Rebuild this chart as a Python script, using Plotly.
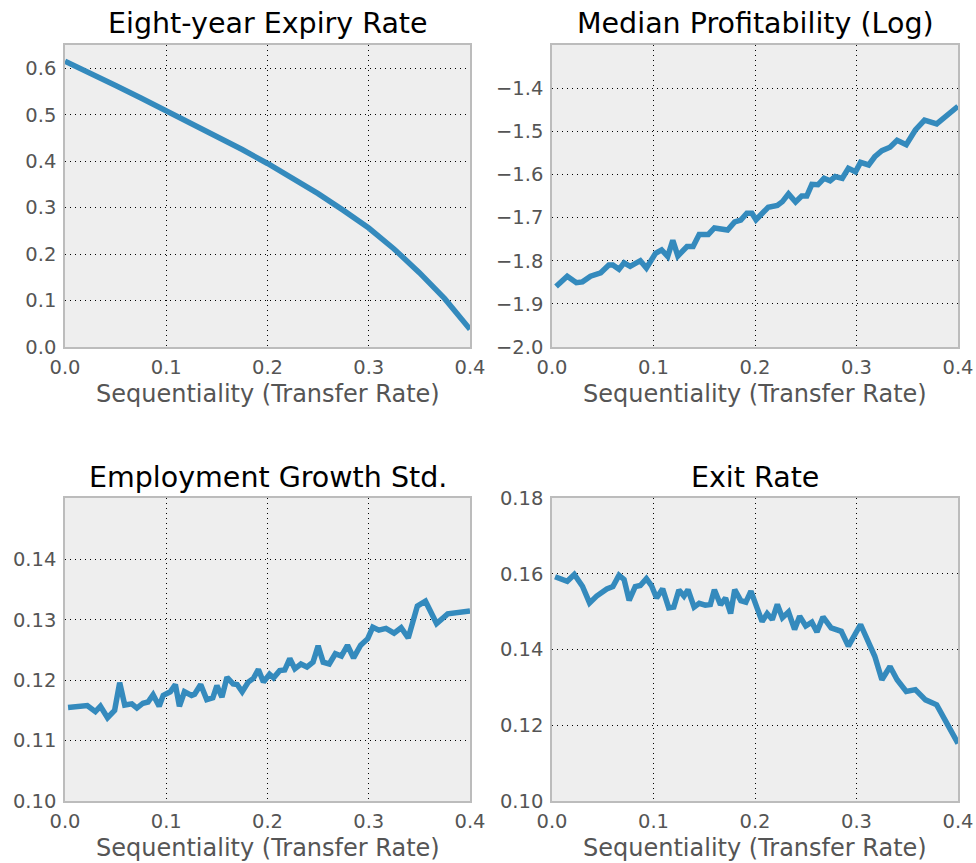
import plotly.graph_objects as go

# Eight-year expiry rate (smooth curve)
expiry_x = [0.0, 0.025, 0.05, 0.075, 0.1, 0.125, 0.15, 0.175, 0.2, 0.225,
            0.25, 0.275, 0.3, 0.325, 0.35, 0.375, 0.4]
expiry_y = [0.615, 0.590, 0.563, 0.536, 0.509, 0.482, 0.454, 0.425, 0.395, 0.363,
            0.330, 0.294, 0.256, 0.211, 0.160, 0.104, 0.038]

# Median profitability (log)
profit_x = [0.004, 0.015, 0.024, 0.030, 0.038, 0.048, 0.056, 0.060, 0.066, 0.071,
            0.077, 0.087, 0.093, 0.102, 0.108, 0.114, 0.119, 0.124, 0.133, 0.139,
            0.145, 0.154, 0.160, 0.167, 0.173, 0.180, 0.186, 0.192, 0.197, 0.201,
            0.213, 0.222, 0.227, 0.233, 0.240, 0.246, 0.251, 0.256, 0.262, 0.268,
            0.274, 0.279, 0.286, 0.292, 0.299, 0.304, 0.312, 0.318, 0.325, 0.333,
            0.340, 0.349, 0.358, 0.367, 0.379, 0.400]
profit_y = [-1.860, -1.836, -1.851, -1.849, -1.836, -1.828, -1.810, -1.810, -1.820, -1.805,
            -1.813, -1.800, -1.817, -1.783, -1.775, -1.790, -1.753, -1.789, -1.767, -1.767,
            -1.739, -1.739, -1.724, -1.727, -1.729, -1.710, -1.706, -1.690, -1.690, -1.705,
            -1.676, -1.672, -1.663, -1.645, -1.664, -1.650, -1.650, -1.623, -1.624, -1.609,
            -1.615, -1.605, -1.609, -1.586, -1.594, -1.572, -1.578, -1.559, -1.545, -1.537,
            -1.521, -1.531, -1.497, -1.474, -1.483, -1.442]

# Employment growth std.
emp_x = [0.003, 0.013, 0.022, 0.030, 0.035, 0.042, 0.049, 0.054, 0.059, 0.066,
         0.071, 0.077, 0.082, 0.087, 0.093, 0.097, 0.104, 0.109, 0.113, 0.118,
         0.125, 0.128, 0.134, 0.140, 0.146, 0.150, 0.155, 0.160, 0.166, 0.170,
         0.175, 0.181, 0.186, 0.191, 0.196, 0.202, 0.206, 0.212, 0.217, 0.222,
         0.227, 0.233, 0.239, 0.245, 0.250, 0.255, 0.261, 0.267, 0.273, 0.279,
         0.285, 0.292, 0.299, 0.304, 0.310, 0.317, 0.325, 0.332, 0.339, 0.348,
         0.356, 0.367, 0.378, 0.400]
emp_y = [0.1155, 0.1157, 0.1158, 0.1148, 0.1157, 0.1138, 0.1150, 0.1196, 0.1159, 0.1161,
         0.1154, 0.1162, 0.1164, 0.1176, 0.1157, 0.1175, 0.1181, 0.1193, 0.1157, 0.1181,
         0.1175, 0.1177, 0.1193, 0.1168, 0.1171, 0.1191, 0.1172, 0.1205, 0.1194, 0.1193,
         0.1181, 0.1197, 0.1203, 0.1218, 0.1197, 0.1210, 0.1204, 0.1216, 0.1217, 0.1236,
         0.1219, 0.1227, 0.1222, 0.1230, 0.1257, 0.1230, 0.1227, 0.1244, 0.1240, 0.1258,
         0.1237, 0.1258, 0.1269, 0.1288, 0.1283, 0.1286, 0.1278, 0.1287, 0.1270, 0.1323,
         0.1331, 0.1294, 0.1310, 0.1315]

# Exit rate
exit_x = [0.003, 0.015, 0.022, 0.030, 0.037, 0.044, 0.054, 0.060, 0.066, 0.071,
          0.076, 0.082, 0.087, 0.093, 0.098, 0.103, 0.109, 0.115, 0.120, 0.125,
          0.130, 0.134, 0.140, 0.145, 0.151, 0.156, 0.160, 0.166, 0.171, 0.176,
          0.180, 0.186, 0.191, 0.196, 0.202, 0.207, 0.212, 0.217, 0.222, 0.227,
          0.233, 0.239, 0.244, 0.250, 0.256, 0.261, 0.267, 0.275, 0.285, 0.292,
          0.304, 0.312, 0.318, 0.325, 0.333, 0.340, 0.349, 0.358, 0.368, 0.379,
          0.400]
exit_y = [0.1592, 0.1580, 0.1598, 0.1567, 0.1523, 0.1541, 0.1560, 0.1566, 0.1596, 0.1585,
          0.1530, 0.1566, 0.1569, 0.1587, 0.1569, 0.1536, 0.1560, 0.1510, 0.1512, 0.1557,
          0.1541, 0.1558, 0.1512, 0.1522, 0.1517, 0.1519, 0.1558, 0.1518, 0.1536, 0.1495,
          0.1558, 0.1529, 0.1525, 0.1554, 0.1510, 0.1474, 0.1495, 0.1479, 0.1519, 0.1484,
          0.1499, 0.1453, 0.1488, 0.1462, 0.1472, 0.1446, 0.1486, 0.1457, 0.1448, 0.1409,
          0.1466, 0.1418, 0.1382, 0.1320, 0.1355, 0.1320, 0.1289, 0.1294, 0.1267, 0.1254,
          0.1152]

titles = ["Eight-year Expiry Rate", "Median Profitability (Log)",
          "Employment Growth Std.", "Exit Rate"]
x_ticks = [0.0, 0.1, 0.2, 0.3, 0.4]
x_ticktext = ["0.0", "0.1", "0.2", "0.3", "0.4"]
y_ticks = [
    [0.0, 0.1, 0.2, 0.3, 0.4, 0.5, 0.6],
    [-2.0, -1.9, -1.8, -1.7, -1.6, -1.5, -1.4],
    [0.10, 0.11, 0.12, 0.13, 0.14],
    [0.10, 0.12, 0.14, 0.16, 0.18],
]
y_ranges = [[0.0, 0.65], [-2.0, -1.3], [0.10, 0.1502], [0.10, 0.18]]
y_formats = [".1f", ".1f", ".2f", ".2f"]
xlabel = "Sequentiality (Transfer Rate)"

W, H = 976, 863
LINE = "#348ABD"
FONT = "DejaVu Sans"

# panel boxes in pixels: left, right, top, bottom
boxes = [(65, 470, 45, 347), (552, 958, 45, 347),
         (65, 470, 498, 801), (552, 958, 498, 801)]

series = [(expiry_x, expiry_y), (profit_x, profit_y), (emp_x, emp_y), (exit_x, exit_y)]

fig = go.Figure()
layout = dict(
    width=W, height=H,
    margin=dict(l=0, r=0, t=0, b=0, autoexpand=False),
    paper_bgcolor="white",
    plot_bgcolor="#eeeeee",
    showlegend=False,
    font=dict(family=FONT, size=19, color="#555555"),
    annotations=[],
)

for i, (xs, ys) in enumerate(series):
    n = "" if i == 0 else str(i + 1)
    fig.add_trace(go.Scatter(x=xs, y=ys, mode="lines",
                             line=dict(color=LINE, width=5.5),
                             xaxis="x" + n, yaxis="y" + n))
    l, r, t, b = boxes[i]
    common = dict(showline=True, mirror=True, linecolor="#bcbcbc", linewidth=1.5,
                  showgrid=True, gridcolor="black", gridwidth=1, griddash="1px,4px",
                  zeroline=False, ticks="", automargin=False,
                  ticklabeloverflow="allow",
                  tickfont=dict(family=FONT, size=19.5, color="#555555"))
    layout["xaxis" + n] = dict(
        domain=[l / W, r / W], anchor="y" + n, range=[0.0, 0.4],
        tickvals=x_ticks, ticktext=x_ticktext, ticklabelstandoff=2,
        **common)
    layout["yaxis" + n] = dict(
        domain=[1 - b / H, 1 - t / H], anchor="x" + n, range=y_ranges[i],
        tickvals=y_ticks[i], tickformat=y_formats[i], ticklabelstandoff=3,
        **common)
    layout["annotations"].append(dict(
        text=titles[i], x=(l + r) / 2 / W, y=1 - (t - 21) / H,
        xref="paper", yref="paper", showarrow=False,
        xanchor="center", yanchor="middle",
        font=dict(family=FONT, size=28.5, color="black")))
    layout["annotations"].append(dict(
        text=xlabel, x=(l + r) / 2 / W, y=1 - (b + 31) / H,
        xref="paper", yref="paper", showarrow=False,
        xanchor="center", yanchor="top",
        font=dict(family=FONT, size=24, color="#555555")))

fig.update_layout(**layout)
# drop the default 8px page margin so the figure fills the window exactly
fig.write_html("out.html", config={"displayModeBar": False},
               post_script="document.body.style.margin = '0';")
